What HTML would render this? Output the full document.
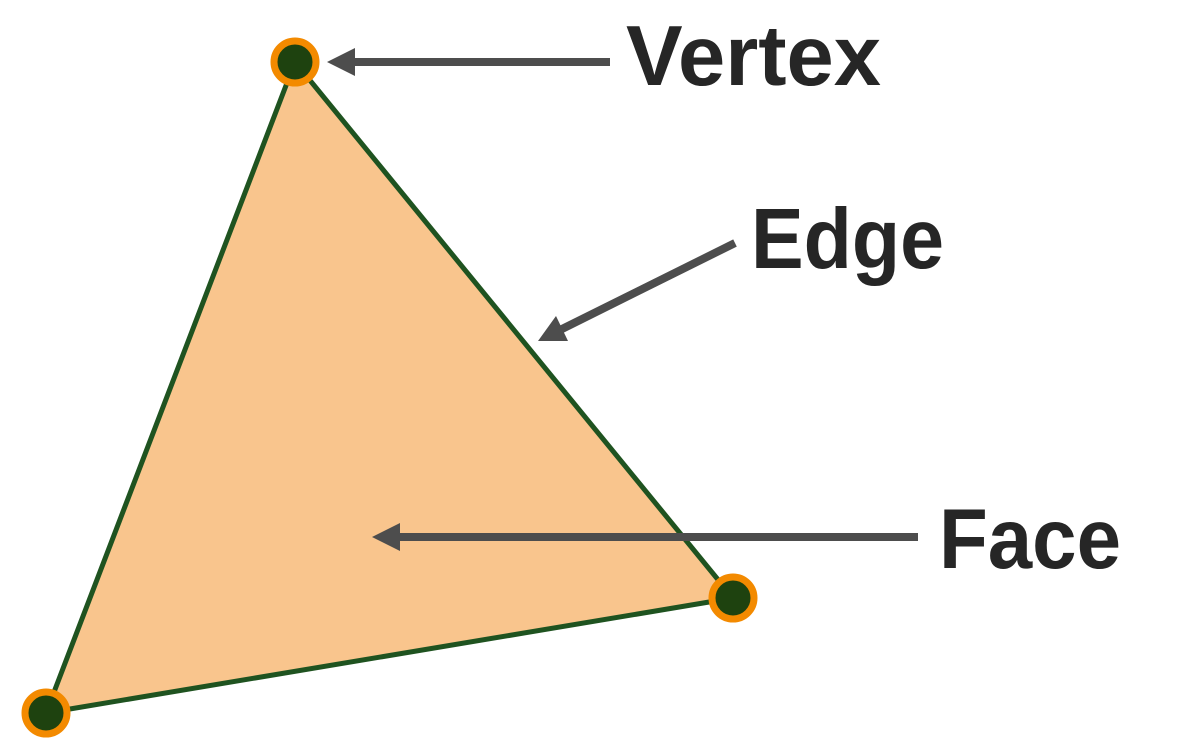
<!DOCTYPE html>
<html><head><style>
body{margin:0;background:#fff;}
svg{display:block}
text{font-family:"Liberation Sans",sans-serif;font-weight:bold;fill:#262626;}
</style></head><body>
<svg width="1201" height="753" viewBox="0 0 1201 753">
<polygon points="295,62 733,598 46,713" fill="#F9C58D" stroke="#1F5320" stroke-width="5" stroke-linejoin="round"/>
<g fill="#4D4D4D" stroke="#4D4D4D">
<line x1="610" y1="62" x2="350" y2="62" stroke-width="8"/>
<polygon points="327,62 355,48 355,76" stroke="none"/>
<line x1="735" y1="243" x2="560" y2="330" stroke-width="8"/>
<polygon points="538,341 556,316 568,341" stroke="none"/>
<line x1="918" y1="537" x2="395" y2="537" stroke-width="8"/>
<polygon points="372,537 400,523 400,551" stroke="none"/>
</g>
<g fill="#1E420F" stroke="#F38A00" stroke-width="7">
<circle cx="295" cy="62" r="21"/>
<circle cx="733" cy="598" r="21"/>
<circle cx="46" cy="713" r="21"/>
</g>
<text x="626" y="85" font-size="85" textLength="255" lengthAdjust="spacingAndGlyphs">Vertex</text>
<text x="751" y="268" font-size="85" textLength="193" lengthAdjust="spacingAndGlyphs">Edge</text>
<text x="939" y="568" font-size="85" textLength="182" lengthAdjust="spacingAndGlyphs">Face</text>
</svg>
</body></html>
